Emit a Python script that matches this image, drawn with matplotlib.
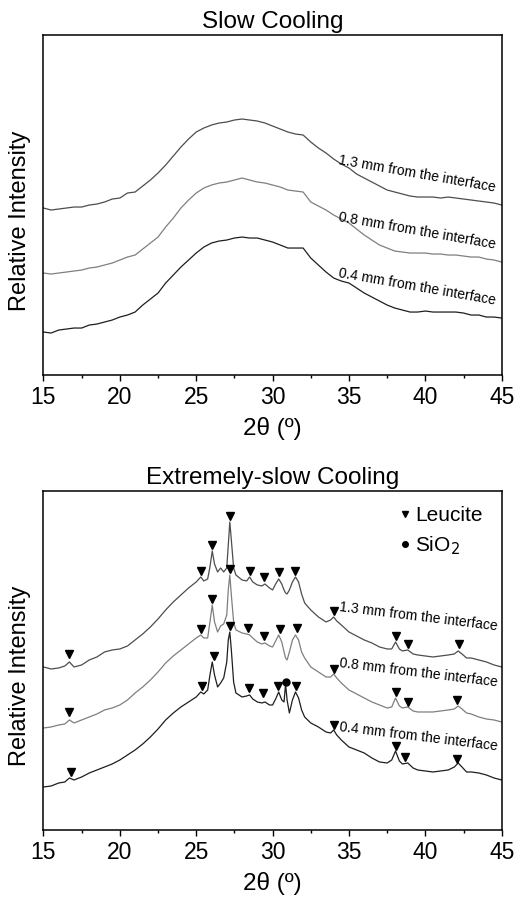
import matplotlib
matplotlib.use('Agg')
import matplotlib.pyplot as plt
from matplotlib.lines import Line2D

plt.rcParams['font.family'] = ['Liberation Sans', 'DejaVu Sans']

# ---- Slow cooling (arbitrary units) ----
slow_x = [15, 15.5, 16, 16.5, 17, 17.5, 18, 18.5, 19, 19.5, 20, 20.5, 21, 21.5, 22, 22.5,
          23, 23.5, 24, 24.5, 25, 25.5, 26, 26.5, 27, 27.5, 28, 28.5, 29, 29.5, 30, 30.5,
          31, 31.5, 32, 32.5, 33, 33.5, 34, 34.5, 35, 35.5, 36, 36.5, 37, 37.5, 38, 38.5,
          39, 39.5, 40, 40.5, 41, 41.5, 42, 42.5, 43, 43.5, 44, 44.5, 45]
slow_13 = [167, 165, 166, 167, 168, 168, 170, 171, 173, 176, 177, 182, 183, 189, 195, 202,
           210, 219, 228, 236, 243, 247, 250, 252, 253, 255, 256, 255, 254, 252, 249, 246,
           243, 241, 240, 233, 227, 222, 216, 211, 207, 201, 197, 193, 189, 185, 183, 181,
           179, 178, 178, 178, 177, 178, 177, 176, 175, 174, 173, 172, 170]
slow_08 = [102, 101, 102, 103, 104, 105, 107, 108, 110, 112, 115, 118, 120, 126, 132, 138,
           148, 157, 167, 175, 182, 187, 190, 192, 193, 195, 197, 195, 193, 192, 190, 188,
           185, 184, 183, 173, 169, 165, 160, 156, 152, 146, 140, 135, 130, 127, 124, 123,
           122, 122, 122, 121, 121, 120, 120, 119, 118, 118, 116, 115, 113]
slow_04 = [43, 42, 45, 46, 47, 47, 50, 51, 53, 55, 58, 60, 63, 70, 76, 82,
           92, 100, 108, 115, 122, 128, 132, 134, 135, 137, 138, 137, 137, 135, 133, 130,
           127, 127, 127, 117, 110, 103, 97, 94, 92, 87, 82, 78, 74, 70, 67, 65,
           63, 63, 64, 63, 63, 63, 63, 62, 60, 60, 58, 58, 57]

# ---- Extremely-slow cooling ----
xs_x = [15, 15.5, 16, 16.4, 16.7, 17.0, 17.5, 18, 18.5, 19, 19.5, 20, 20.5, 21, 21.5, 22,
        22.5, 23, 23.5, 24, 24.5, 25, 25.3, 25.5, 25.75, 25.9, 26.05, 26.2, 26.4, 26.6,
        26.8, 27.0, 27.1, 27.2, 27.3, 27.45, 27.6, 28, 28.3, 28.5, 28.7, 29, 29.3, 29.5,
        29.8, 30.0, 30.2, 30.4, 30.6, 30.75, 30.85, 30.95, 31.1, 31.3, 31.5, 31.7, 31.9,
        32.1, 32.5, 33, 33.5, 33.8, 34.0, 34.2, 34.5, 35, 35.5, 36, 36.5, 37, 37.5, 37.8,
        38.05, 38.3, 38.5, 38.85, 39.2, 39.5, 40, 40.5, 41, 41.5, 41.9, 42.15, 42.4, 42.7,
        43, 43.5, 44, 44.5, 45]
xs_13 = [163, 161, 162, 164, 168, 163, 165, 170, 173, 178, 180, 181, 184, 190, 196, 203,
         211, 220, 228, 235, 242, 248, 253, 249, 251, 263, 279, 266, 258, 262,
         258, 262, 285, 308, 290, 262, 255, 250, 249, 253, 248, 245, 244, 246,
         242, 240, 246, 251, 246, 240, 237, 236, 240, 248, 253, 248, 236,
         227, 220, 213, 208, 210, 213, 209, 205, 198, 194, 190, 187, 183, 181, 181,
         188, 181, 179, 180, 176, 175, 174, 173, 174, 175, 176, 179, 176, 172,
         172, 170, 168, 165, 163]
xs_08 = [102, 103, 105, 106, 110, 107, 110, 113, 116, 120, 122, 125, 130, 137, 143, 150,
         158, 167, 174, 180, 186, 192, 195, 192, 192, 208, 225, 208, 198, 204,
         206, 215, 240, 255, 235, 208, 200, 197, 196, 195, 192, 188, 186, 187,
         184, 183, 189, 195, 188, 178, 172, 170, 178, 190, 195, 190, 178,
         172, 163, 158, 153, 153, 156, 152, 147, 140, 136, 132, 128, 125, 122, 123,
         132, 124, 122, 123, 119, 118, 118, 118, 119, 120, 121, 124, 121, 117,
         116, 113, 111, 110, 108]
xs_04 = [43, 44, 47, 48, 52, 50, 53, 57, 60, 63, 66, 70, 75, 80, 86, 93,
         101, 110, 117, 123, 128, 133, 138, 136, 140, 155, 168, 155, 143, 147,
         152, 168, 190, 198, 180, 148, 137, 133, 134, 135, 131, 128, 127, 128,
         125, 125, 131, 138, 130, 128, 146, 130, 117, 130, 138, 132, 120,
         113, 107, 103, 98, 97, 100, 95, 90, 83, 80, 77, 72, 68, 67, 70,
         79, 69, 66, 67, 62, 60, 59, 58, 59, 60, 63, 67, 63, 58,
         58, 57, 55, 52, 50]

# Leucite reflections marked on each curve, and marker heights
leu_13_x = [16.7, 25.3, 26.05, 27.2, 28.5, 29.45, 30.4, 31.5, 34.0, 38.05, 38.85, 42.2]
leu_13_y = [176, 259, 285, 314, 259, 253, 258, 259, 219, 194, 186, 186]
leu_08_x = [16.7, 25.3, 26.05, 27.2, 28.4, 29.45, 30.5, 31.6, 34.0, 38.05, 38.85, 42.1]
leu_08_y = [118, 201, 231, 261, 202, 194, 201, 202, 161, 138, 128, 130]
leu_04_x = [16.8, 25.35, 26.15, 27.2, 28.45, 29.35, 30.35, 31.55, 34.05, 38.05, 38.7, 42.1]
leu_04_y = [58, 144, 174, 204, 142, 137, 144, 144, 105, 84, 73, 71]
sio2_x = [30.85]
sio2_y = [148]

labels = ['1.3 mm from the interface', '0.8 mm from the interface',
          '0.4 mm from the interface']
colors = ['#4d4d4d', '#7f7f7f', '#1e1e1e']

fig = plt.figure(figsize=(5.3, 9.07), dpi=100)
ax1 = fig.add_axes([0.082, 0.5865, 0.8646, 0.3749])
ax2 = fig.add_axes([0.082, 0.0849, 0.8646, 0.3738])

for y, c in zip([slow_13, slow_08, slow_04], colors):
    ax1.plot(slow_x, y, color=c, lw=0.9)
for y, c in zip([xs_13, xs_08, xs_04], colors):
    ax2.plot(xs_x, y, color=c, lw=0.9)

for lx, ly in [(leu_13_x, leu_13_y), (leu_08_x, leu_08_y), (leu_04_x, leu_04_y)]:
    ax2.plot(lx, ly, 'v', color='black', ms=6, ls='none')
ax2.plot(sio2_x, sio2_y, 'o', color='black', ms=5, ls='none')

# curve labels
for txt, yy in zip(labels, [215, 158, 102]):
    ax1.text(34.3, yy, txt, rotation=-10, rotation_mode='anchor',
             ha='left', va='center', fontsize=10)
for txt, yy in zip(labels, [223, 167, 103]):
    ax2.text(34.35, yy, txt, rotation=-7, rotation_mode='anchor',
             ha='left', va='center', fontsize=10)

handles = [Line2D([], [], marker='v', color='black', ls='none', ms=5),
           Line2D([], [], marker='o', color='black', ls='none', ms=4)]
ax2.legend(handles, ['Leucite', 'SiO$_2$'], loc='upper left', frameon=False,
           fontsize=15, handletextpad=0.2, handlelength=0.6, labelspacing=0.45,
           borderaxespad=0.0, borderpad=0.0, bbox_to_anchor=(0.775, 0.955))

for ax, title, top in [(ax1, 'Slow Cooling', 340), (ax2, 'Extremely-slow Cooling', 339)]:
    ax.set_xlim(15, 45)
    ax.set_ylim(0, top)
    ax.set_xticks([15, 20, 25, 30, 35, 40, 45])
    ax.set_xticks([17.5, 22.5, 27.5, 32.5, 37.5, 42.5], minor=True)
    ax.set_yticks([])
    ax.tick_params(axis='x', which='major', direction='out', length=4, width=1,
                   labelsize=16.5, pad=4)
    ax.tick_params(axis='x', which='minor', direction='out', length=2.5, width=1)
    for s in ax.spines.values():
        s.set_linewidth(1.1)
    ax.set_title(title, fontsize=17.5, pad=5)
    ax.set_xlabel('2θ (º)', fontsize=17.5, labelpad=6)
    ax.set_ylabel('Relative Intensity', fontsize=17)
    ax.yaxis.set_label_coords(-0.028, 0.455)

fig.savefig('out.png', dpi=100)
